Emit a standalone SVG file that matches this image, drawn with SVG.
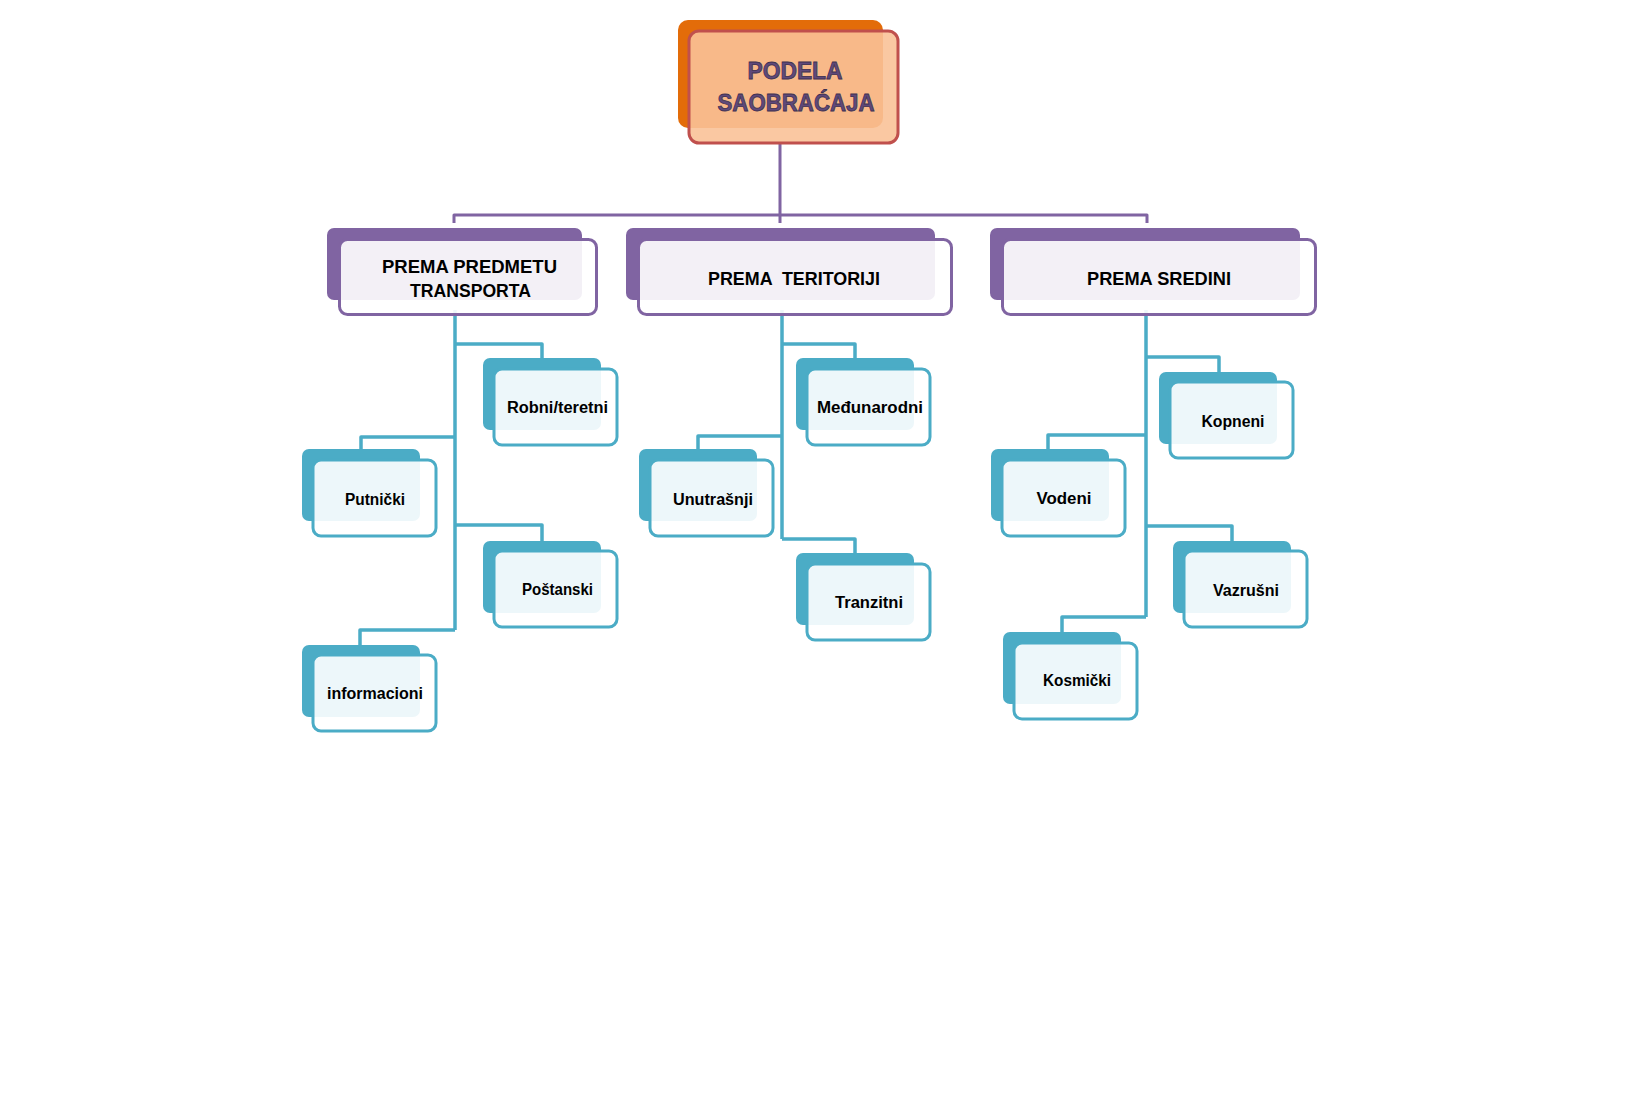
<svg xmlns="http://www.w3.org/2000/svg" width="1627" height="1102" viewBox="0 0 1627 1102">
<style>
.bg{fill:#ffffff}
.rootBack{fill:#E36C09}
.rootFront{fill:#F9C298;fill-opacity:0.9;stroke:#C0504D;stroke-width:3}
.rootText{font-family:"Liberation Sans",Arial,sans-serif;font-weight:bold;font-size:24px;fill:#5F497A;stroke:#3F3151;stroke-width:0.8;text-anchor:middle}
.l1Back{fill:#8064A2}
.l1Front{fill:#ffffff;fill-opacity:0.9;stroke:#8064A2;stroke-width:3}
.l1Text{font-family:"Liberation Sans",Arial,sans-serif;font-weight:bold;font-size:18px;fill:#000000;text-anchor:middle}
.l2Back{fill:#4BACC6}
.l2Front{fill:#ffffff;fill-opacity:0.9;stroke:#4BACC6;stroke-width:3}
.l2Text{font-family:"Liberation Sans",Arial,sans-serif;font-weight:bold;font-size:16px;fill:#000000;text-anchor:middle}
.cPurple{fill:none;stroke:#8064A2;stroke-width:3;stroke-linejoin:round}
.cBlue{fill:none;stroke:#4BACC6;stroke-width:3.5;stroke-linejoin:round}
</style>
<rect class="bg" x="0" y="0" width="1627" height="1102"/>
<g id="connectors">
  <path class="cPurple" d="M780,143 V223 M454,223 V215 H1147 V223"/>
  <path class="cBlue" d="M455,310 V630 M455,344 H542 V358 M455,437 H361 V449 M455,525 H542 V541 M455,630 H360 V645"/>
  <path class="cBlue" d="M782,310 V539 M782,344 H855 V358 M782,436 H698 V449 M782,539 H855 V553"/>
  <path class="cBlue" d="M1146,310 V617 M1146,357 H1219 V372 M1146,435 H1048 V449 M1146,526 H1232 V541 M1146,617 H1062 V632"/>
</g>
<g id="root">
  <rect class="rootBack" x="678" y="20" width="205" height="108" rx="10"/>
  <rect class="rootFront" x="689" y="31" width="209" height="112" rx="10"/>
  <text class="rootText" x="795" y="79" textLength="95" lengthAdjust="spacingAndGlyphs">PODELA</text>
  <text class="rootText" x="796" y="111" textLength="157" lengthAdjust="spacingAndGlyphs">SAOBRAĆAJA</text>
</g>
<g id="n-predmet">
  <rect class="l1Back" x="327" y="228" width="255" height="72" rx="7"/>
  <rect class="l1Front" x="339.5" y="239.5" width="257" height="75" rx="8"/>
  <text class="l1Text" x="469.5" y="273" textLength="175" lengthAdjust="spacingAndGlyphs">PREMA PREDMETU</text>
  <text class="l1Text" x="470.5" y="297" textLength="121" lengthAdjust="spacingAndGlyphs">TRANSPORTA</text>
</g>
<g id="n-teritorija">
  <rect class="l1Back" x="626" y="228" width="309" height="72" rx="7"/>
  <rect class="l1Front" x="638.5" y="239.5" width="313" height="75" rx="8"/>
  <text class="l1Text" x="794" y="285" textLength="172" lengthAdjust="spacingAndGlyphs" xml:space="preserve">PREMA  TERITORIJI</text>
</g>
<g id="n-sredina">
  <rect class="l1Back" x="990" y="228" width="310" height="72" rx="7"/>
  <rect class="l1Front" x="1002.5" y="239.5" width="313" height="75" rx="8"/>
  <text class="l1Text" x="1159" y="285" textLength="144" lengthAdjust="spacingAndGlyphs">PREMA SREDINI</text>
</g>
<g id="n-robni">
  <rect class="l2Back" x="483" y="358" width="118" height="72" rx="7"/>
  <rect class="l2Front" x="494" y="369" width="123" height="76" rx="8"/>
  <text class="l2Text" x="557.5" y="413" textLength="101" lengthAdjust="spacingAndGlyphs">Robni/teretni</text>
</g>
<g id="n-putnicki">
  <rect class="l2Back" x="302" y="449" width="118" height="72" rx="7"/>
  <rect class="l2Front" x="313" y="460" width="123" height="76" rx="8"/>
  <text class="l2Text" x="375" y="505" textLength="60" lengthAdjust="spacingAndGlyphs">Putnički</text>
</g>
<g id="n-postanski">
  <rect class="l2Back" x="483" y="541" width="118" height="72" rx="7"/>
  <rect class="l2Front" x="494" y="551" width="123" height="76" rx="8"/>
  <text class="l2Text" x="557.5" y="595" textLength="71" lengthAdjust="spacingAndGlyphs">Poštanski</text>
</g>
<g id="n-informacioni">
  <rect class="l2Back" x="302" y="645" width="118" height="72" rx="7"/>
  <rect class="l2Front" x="313" y="655" width="123" height="76" rx="8"/>
  <text class="l2Text" x="375" y="699" textLength="96" lengthAdjust="spacingAndGlyphs">informacioni</text>
</g>
<g id="n-medjunarodni">
  <rect class="l2Back" x="796" y="358" width="118" height="72" rx="7"/>
  <rect class="l2Front" x="807" y="369" width="123" height="76" rx="8"/>
  <text class="l2Text" x="870" y="413" textLength="106" lengthAdjust="spacingAndGlyphs">Međunarodni</text>
</g>
<g id="n-unutrasnji">
  <rect class="l2Back" x="639" y="449" width="118" height="72" rx="7"/>
  <rect class="l2Front" x="650" y="460" width="123" height="76" rx="8"/>
  <text class="l2Text" x="713" y="505" textLength="80" lengthAdjust="spacingAndGlyphs">Unutrašnji</text>
</g>
<g id="n-tranzitni">
  <rect class="l2Back" x="796" y="553" width="118" height="72" rx="7"/>
  <rect class="l2Front" x="807" y="564" width="123" height="76" rx="8"/>
  <text class="l2Text" x="869" y="608" textLength="68" lengthAdjust="spacingAndGlyphs">Tranzitni</text>
</g>
<g id="n-kopneni">
  <rect class="l2Back" x="1159" y="372" width="118" height="72" rx="7"/>
  <rect class="l2Front" x="1170" y="382" width="123" height="76" rx="8"/>
  <text class="l2Text" x="1233" y="427" textLength="63" lengthAdjust="spacingAndGlyphs">Kopneni</text>
</g>
<g id="n-vodeni">
  <rect class="l2Back" x="991" y="449" width="118" height="72" rx="7"/>
  <rect class="l2Front" x="1002" y="460" width="123" height="76" rx="8"/>
  <text class="l2Text" x="1064" y="504" textLength="55" lengthAdjust="spacingAndGlyphs">Vodeni</text>
</g>
<g id="n-vazrusni">
  <rect class="l2Back" x="1173" y="541" width="118" height="72" rx="7"/>
  <rect class="l2Front" x="1184" y="551" width="123" height="76" rx="8"/>
  <text class="l2Text" x="1246" y="596" textLength="66" lengthAdjust="spacingAndGlyphs">Vazrušni</text>
</g>
<g id="n-kosmicki">
  <rect class="l2Back" x="1003" y="632" width="118" height="72" rx="7"/>
  <rect class="l2Front" x="1014" y="643" width="123" height="76" rx="8"/>
  <text class="l2Text" x="1077" y="686" textLength="68" lengthAdjust="spacingAndGlyphs">Kosmički</text>
</g>
</svg>
